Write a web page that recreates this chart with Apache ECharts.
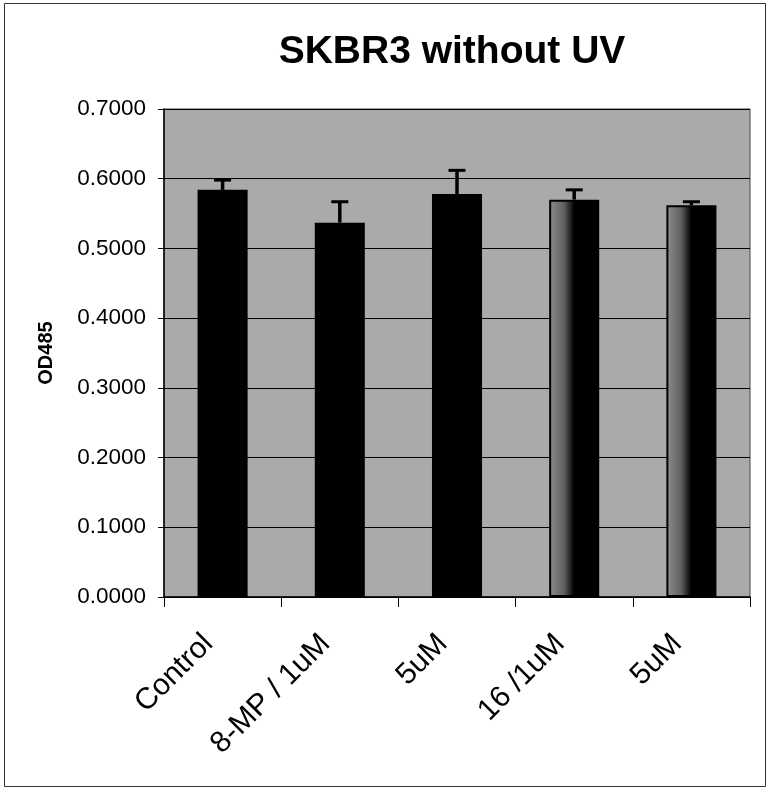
<!DOCTYPE html>
<html><head><meta charset="utf-8">
<script src="https://cdn.jsdelivr.net/npm/echarts@6/dist/echarts.min.js"></script>
<style>html,body{margin:0;padding:0;background:#fff;}#c{width:770px;height:791px;}</style>
</head><body><div id="c"></div>
<script>
const categories = ['Control', '8-MP / 1uM', '5uM', '16 /1uM', '5uM'];
const values = [0.584, 0.537, 0.578, 0.570, 0.562];
const errors = [0.014, 0.030, 0.034, 0.014, 0.005];
const yTicks = { min: 0, max: 0.7, interval: 0.1 };
const title = 'SKBR3 without UV';
const yName = 'OD485';

const solid = '#000';
const grad = { type: 'linear', x: 0, y: 0, x2: 1, y2: 0, colorStops: [
  { offset: 0, color: '#8e8e8e' }, { offset: 0.3, color: '#5e5e5e' }, { offset: 0.5, color: '#000' }, { offset: 1, color: '#000' } ] };

const chart = echarts.init(document.getElementById('c'));
chart.setOption({
  backgroundColor: '#fff',
  animation: false,
  title: { text: title, left: 447, top: 28, textAlign: 'center',
    textStyle: { fontFamily: 'Liberation Sans', fontWeight: 'bold', fontSize: 39, color: '#000' } },
  graphic: [{ type: 'rect', shape: { x: 4.5, y: 3.5, width: 761, height: 783 },
    style: { fill: 'none', stroke: '#333', lineWidth: 1 }, silent: true }],
  grid: { left: 164, right: 20, top: 109, bottom: 194, show: true, backgroundColor: '#aaaaaa', borderColor: '#444', borderWidth: 1 },
  xAxis: { type: 'category', data: categories,
    axisLine: { lineStyle: { color: '#000', width: 1.5 } },
    axisTick: { show: true, length: 10, lineStyle: { color: '#000' } },
    axisLabel: { rotate: 45, margin: 28, padding: [0, 20, 0, 0], fontFamily: 'Liberation Sans', fontSize: 30, color: '#000' } },
  yAxis: { type: 'value', min: yTicks.min, max: yTicks.max, interval: yTicks.interval,
    name: yName, nameLocation: 'middle', nameGap: 108, nameRotate: 90,
    nameTextStyle: { fontFamily: 'Liberation Sans', fontWeight: 'bold', fontSize: 20, color: '#000' },
    axisLine: { show: true, lineStyle: { color: '#000', width: 1.5 } },
    axisTick: { show: true, length: 6, lineStyle: { color: '#000' } },
    axisLabel: { formatter: v => v.toFixed(4), margin: 18, fontFamily: 'Liberation Sans', fontSize: 22.5, color: '#000' },
    splitLine: { show: true, lineStyle: { color: '#000', width: 1 } } },
  series: [
    { type: 'bar', barWidth: '42.7%',
      data: values.map((v, i) => ({ value: v, itemStyle: { color: i >= 3 ? grad : solid, borderColor: '#000', borderWidth: i >= 3 ? 2 : 0 } })) },
    { type: 'custom', z: 5,
      data: values.map((v, i) => [i, v, v + errors[i]]),
      renderItem: (params, api) => {
        const p0 = api.coord([api.value(0), api.value(1)]);
        const p1 = api.coord([api.value(0), api.value(2)]);
        const hw = 8.5;
        return { type: 'group', children: [
          { type: 'line', shape: { x1: p0[0], y1: p0[1], x2: p1[0], y2: p1[1] }, style: { stroke: '#000', lineWidth: 3.5 } },
          { type: 'line', shape: { x1: p1[0] - hw, y1: p1[1], x2: p1[0] + hw, y2: p1[1] }, style: { stroke: '#000', lineWidth: 3 } }
        ] };
      } }
  ]
});
</script></body></html>
